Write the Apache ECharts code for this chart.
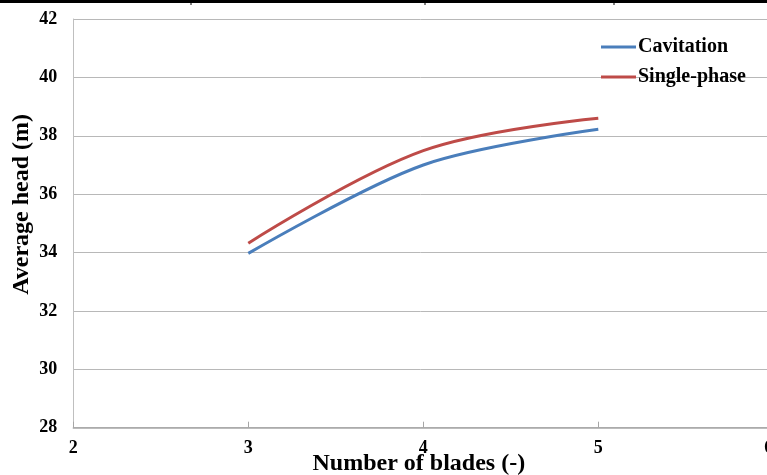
<!DOCTYPE html>
<html>
<head>
<meta charset="utf-8">
<script src="https://cdn.jsdelivr.net/npm/echarts@6/dist/echarts.min.js"></script>
<style>
html,body{margin:0;padding:0;background:#fff;}
#chart{width:767px;height:475px;}
</style>
</head>
<body>
<div id="chart"></div>
<script>
var blades = [3, 4, 5];
var cavitation = [33.97, 37.0, 38.22];
var singlePhase = [34.32, 37.49, 38.6];
var yTicks = [28, 30, 32, 34, 36, 38, 40, 42];
var xTicks = [2, 3, 4, 5, 6];

var FONT = '"Liberation Serif", "Times New Roman", serif';
var chart = echarts.init(document.getElementById('chart'), null, {renderer: 'canvas'});

function pairs(xs, ys) { return xs.map(function (x, i) { return [x, ys[i]]; }); }

chart.setOption({
  animation: false,
  backgroundColor: '#ffffff',
  grid: {left: 73.3, top: 19, width: 700, height: 408.7, show: false, outerBoundsMode: 'none', containLabel: false},
  legend: {
    orient: 'vertical',
    left: 601,
    top: 37,
    padding: 0,
    itemWidth: 35,
    itemHeight: 3,
    itemGap: 10,
    icon: 'rect',
    textStyle: {fontFamily: FONT, fontWeight: 'bold', fontSize: 20, color: '#000', padding: [0, 0, 0, -3]},
    data: ['Cavitation', 'Single-phase']
  },
  xAxis: {
    type: 'value',
    min: xTicks[0],
    max: xTicks[xTicks.length - 1],
    interval: 1,
    name: 'Number of blades (-)',
    nameLocation: 'middle',
    nameGap: 24,
    nameMoveOverlap: false,
    nameTextStyle: {fontFamily: FONT, fontWeight: 'bold', fontSize: 24, color: '#000', padding: [0, 9, 0, 0]},
    axisLine: {show: true, lineStyle: {color: '#a6a6a6', width: 1.5}},
    axisTick: {show: true, inside: true, length: 6, lineStyle: {color: '#a6a6a6'}},
    axisLabel: {margin: 12, fontFamily: FONT, fontWeight: 'bold', fontSize: 18, color: '#000', hideOverlap: false, alignMaxLabel: 'right'},
    splitLine: {show: false}
  },
  yAxis: {
    type: 'value',
    min: yTicks[0],
    max: yTicks[yTicks.length - 1],
    interval: 2,
    name: 'Average head (m)',
    nameLocation: 'middle',
    nameGap: 40,
    nameMoveOverlap: false,
    nameTextStyle: {fontFamily: FONT, fontWeight: 'bold', fontSize: 24, color: '#000', padding: [0, 0, 0, 38]},
    axisLine: {show: true, lineStyle: {color: '#bfbfbf', width: 1}},
    axisTick: {show: false},
    axisLabel: {margin: 16, fontFamily: FONT, fontWeight: 'bold', fontSize: 18, color: '#000'},
    splitLine: {show: true, lineStyle: {color: '#b8b8b8', width: 1}}
  },
  series: [
    {
      name: 'Cavitation',
      type: 'line',
      smooth: 0.32,
      showSymbol: false,
      symbol: 'none',
      itemStyle: {color: '#4a7ebb'},
      lineStyle: {color: '#4a7ebb', width: 3},
      data: pairs(blades, cavitation)
    },
    {
      name: 'Single-phase',
      type: 'line',
      smooth: 0.36,
      showSymbol: false,
      symbol: 'none',
      itemStyle: {color: '#be4b48'},
      lineStyle: {color: '#be4b48', width: 3},
      data: pairs(blades, singlePhase)
    }
  ],
  graphic: [
    {type: 'line', shape: {x1: 0, y1: 1.5, x2: 767, y2: 1.5}, style: {stroke: '#000', lineWidth: 3}},
    {type: 'line', shape: {x1: 191, y1: 1, x2: 191, y2: 5}, style: {stroke: '#000', lineWidth: 1}},
    {type: 'line', shape: {x1: 425, y1: 1, x2: 425, y2: 5}, style: {stroke: '#000', lineWidth: 1}},
    {type: 'line', shape: {x1: 614, y1: 1, x2: 614, y2: 5}, style: {stroke: '#000', lineWidth: 1}}
  ]
});
</script>
</body>
</html>
